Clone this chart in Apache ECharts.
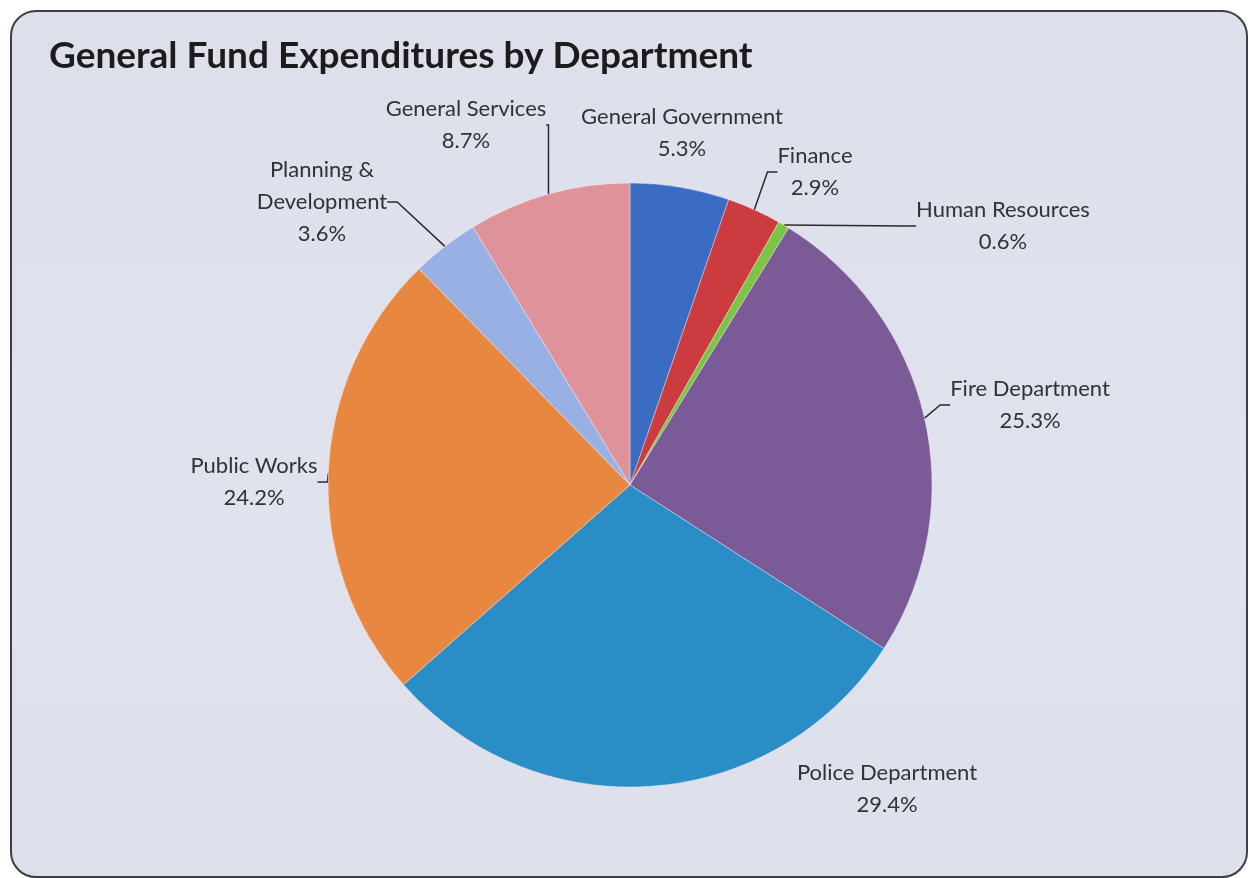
<!DOCTYPE html>
<html>
<head>
<meta charset="utf-8">
<script src="https://cdn.jsdelivr.net/npm/echarts@6/dist/echarts.min.js"></script>
<style>
html,body{margin:0;padding:0;background:#ffffff;}
#frame{position:absolute;left:10px;top:10px;width:1234px;height:864px;border:2px solid #3c3f44;border-radius:26px;
background:linear-gradient(180deg,#dde0eb 0%,#e0e2ed 60%,#dddfea 100%);}
#main{position:absolute;left:0;top:0;width:1251px;height:878px;}
</style>
</head>
<body>
<div id="frame"></div>
<div id="main"></div>
<script>
const titleText = 'General Fund Expenditures by Department';
const departments = ['General Government','Finance','Human Resources','Fire Department','Police Department','Public Works','Planning &\nDevelopment','General Services'];
const shares = [5.3, 2.9, 0.6, 25.3, 29.4, 24.2, 3.6, 8.7];
const colors = ['#3b6cc4','#cc3c3f','#7cc444','#7b5a98','#2b8dc6','#e8873f','#98b0e4','#dd9399'];

// label anchor positions (layout only)
const labelPos = [
  {x:682, y:133, line:false},
  {x:815, y:172, line:true},
  {x:1003, y:226, line:true},
  {x:1030, y:405, line:true},
  {x:887, y:789, line:false},
  {x:254, y:482, line:true},
  {x:322, y:202, line:true},
  {x:466, y:125, line:true}
];

const chart = echarts.init(document.getElementById('main'), null, {renderer:'canvas'});
const data = departments.map((n,i)=>({
  name:n, value:shares[i],
  itemStyle:{color:colors[i]},
  labelLine:{show:labelPos[i].line}
}));
chart.setOption({
  animation:false,
  backgroundColor:'transparent',
  title:{text:titleText,left:44,top:33,textStyle:{fontFamily:'Lato',fontWeight:'bold',fontSize:37,color:'#1c1c1c'}},
  series:[{
    type:'pie',
    center:[630,485],
    radius:302,
    startAngle:90,
    clockwise:true,
    avoidLabelOverlap:false,
    data:data,
    itemStyle:{borderColor:'rgba(255,255,255,0.35)',borderWidth:1},
    label:{show:true,position:'outside',formatter:p=>p.name+'\n'+p.value.toFixed(1)+'%',
      fontFamily:'Lato',fontSize:22,lineHeight:32,color:'#2e3333',align:'center'},
    labelLine:{show:true,lineStyle:{color:'#2a2a2a',width:1.5},length:10,length2:10},
    labelLayout:function(p){
      const q=labelPos[p.dataIndex];
      return {x:q.x,y:q.y,align:'center',verticalAlign:'middle',hideOverlap:false};
    }
  }]
});
</script>
</body>
</html>
